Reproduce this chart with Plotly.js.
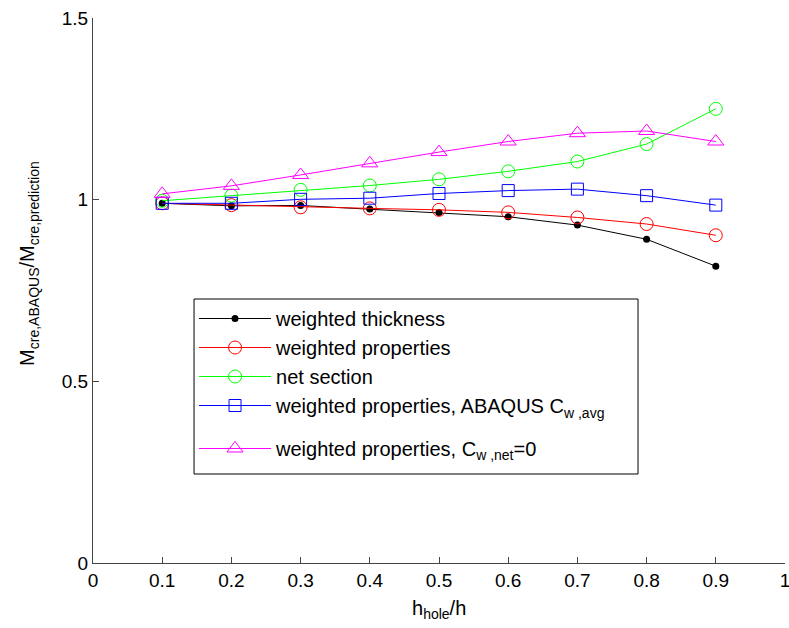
<!DOCTYPE html>
<html>
<head>
<meta charset="utf-8">
<script src="https://cdn.plot.ly/plotly-3.0.1.min.js"></script>
<style>html,body{margin:0;padding:0;background:#fff;}#chart{width:789px;height:628px;}</style>
</head>
<body>
<div id="chart"></div>
<script>
const hRatio = [0.1, 0.2, 0.3, 0.4, 0.5, 0.6, 0.7, 0.8, 0.9];
const weightedThickness = [0.990, 0.983, 0.984, 0.974, 0.965, 0.953, 0.930, 0.891, 0.817];
const weightedProperties = [0.990, 0.985, 0.979, 0.976, 0.972, 0.965, 0.951, 0.933, 0.902];
const netSection = [0.997, 1.011, 1.027, 1.039, 1.056, 1.078, 1.105, 1.153, 1.250];
const abaqusCw = [0.990, 0.990, 1.001, 1.004, 1.017, 1.025, 1.029, 1.011, 0.985];
const cwNetZero = [1.016, 1.038, 1.068, 1.100, 1.131, 1.160, 1.183, 1.189, 1.160];

const names = [
  'weighted thickness',
  'weighted properties',
  'net section',
  'weighted properties, ABAQUS C<sub>w ,avg</sub>',
  'weighted properties, C<sub>w ,net</sub>=0'
];
const xTicks = [0, 0.1, 0.2, 0.3, 0.4, 0.5, 0.6, 0.7, 0.8, 0.9, 1];
const yTicks = [0, 0.5, 1, 1.5];
const xTitle = 'h<sub>hole</sub>/h';
const yTitle = 'M<sub>cre,ABAQUS</sub>/M<sub>cre,prediction</sub>';

const traces = [
  {x: hRatio, y: weightedThickness, name: names[0], mode: 'lines+markers', legend: 'legend',
   line: {color: '#000000', width: 1}, marker: {symbol: 'circle', size: 7, color: '#000000'}},
  {x: hRatio, y: weightedProperties, name: names[1], mode: 'lines+markers', legend: 'legend',
   line: {color: '#ff0000', width: 1}, marker: {symbol: 'circle-open', size: 13, color: '#ff0000', line: {width: 1}}},
  {x: hRatio, y: netSection, name: names[2], mode: 'lines+markers', legend: 'legend',
   line: {color: '#00ff00', width: 1}, marker: {symbol: 'circle-open', size: 13, color: '#00ff00', line: {width: 1}}},
  {x: hRatio, y: abaqusCw, name: names[3], mode: 'lines+markers', legend: 'legend',
   line: {color: '#0000ff', width: 1}, marker: {symbol: 'square-open', size: 12, color: '#0000ff', line: {width: 1}}},
  {x: hRatio, y: cwNetZero, name: names[4], mode: 'lines+markers', legend: 'legend2',
   line: {color: '#ff00ff', width: 1}, marker: {symbol: 'triangle-up-open', size: 14, color: '#ff00ff', line: {width: 1}}}
];

const axisCommon = {
  tickfont: {family: 'Arial', size: 19, color: '#000000'},
  ticks: 'inside', ticklen: 6, tickcolor: '#444444', showgrid: false, zeroline: false,
  showline: true, linecolor: '#444444', linewidth: 1, mirror: false,
  ticklabeloverflow: 'allow'
};

const legendFont = {family: 'Arial', size: 20, color: '#000000'};

const layout = {
  width: 789, height: 628,
  margin: {l: 93, r: 4, t: 18, b: 65},
  paper_bgcolor: '#ffffff', plot_bgcolor: '#ffffff',
  font: {family: 'Arial', size: 19, color: '#000000'},
  showlegend: true,
  legend: {
    x: 0.146, y: 0.4844, xanchor: 'left', yanchor: 'top',
    borderwidth: 0, bgcolor: 'rgba(0,0,0,0)', font: legendFont, itemwidth: 72
  },
  legend2: {
    x: 0.146, y: 0.2459, xanchor: 'left', yanchor: 'top',
    borderwidth: 0, bgcolor: 'rgba(0,0,0,0)', font: legendFont, itemwidth: 72
  },
  xaxis: Object.assign({range: [0, 1], tickvals: xTicks, ticktext: xTicks.map(String)}, axisCommon),
  yaxis: Object.assign({range: [0, 1.5], tickvals: yTicks, ticktext: yTicks.map(String)}, axisCommon),
  shapes: [
    {type: 'rect', xref: 'paper', yref: 'paper', x0: 0.146, x1: 0.7876, y0: 0.1633, y1: 0.4844,
     line: {color: '#000000', width: 1}, fillcolor: '#ffffff', layer: 'above'}
  ],
  annotations: [
    {text: xTitle, xref: 'paper', yref: 'paper', x: 0.5, y: -0.058, xanchor: 'center', yanchor: 'top',
     showarrow: false, font: {family: 'Arial', size: 20, color: '#000000'}},
    {text: yTitle, xref: 'paper', yref: 'paper', x: -0.093, y: 0.55, xanchor: 'center', yanchor: 'middle',
     textangle: -90, showarrow: false, font: {family: 'Arial', size: 20, color: '#000000'}}
  ]
};

Plotly.newPlot('chart', traces, layout, {displayModeBar: false, staticPlot: true});
</script>
</body>
</html>
